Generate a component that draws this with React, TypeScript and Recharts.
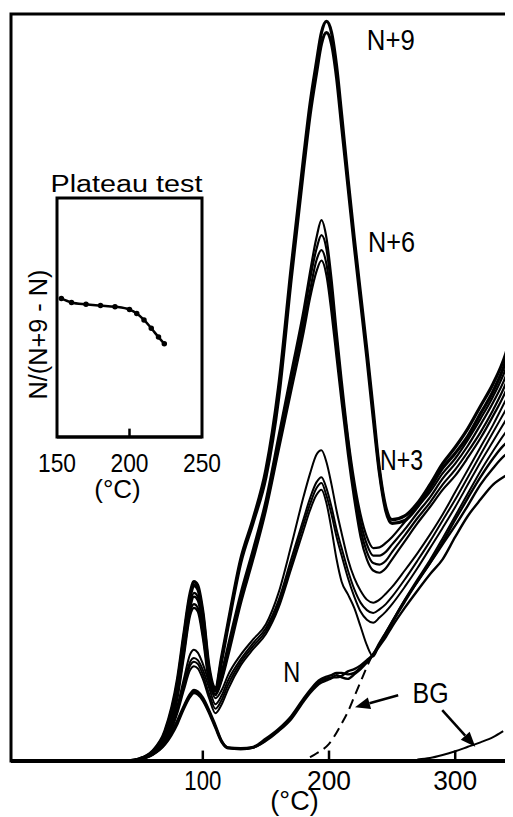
import React from 'react';
import { LineChart, Line, XAxis, YAxis, ReferenceLine, ReferenceDot, ReferenceArea, Label } from 'recharts';

// temperature grid (°C) shared by all glow curves
const temps = [40, 50, 60, 70, 80, 85, 90, 93, 96, 100, 105, 110, 115, 120, 130, 140, 150, 160, 170, 180, 185, 190, 194, 198, 202, 206, 210, 215, 220, 225, 230, 235, 240, 245, 250, 260, 270, 280, 290, 300, 310, 320, 330, 340, 345];

// N+9
const n9a = [0, 0.3, 1.3, 4, 11, 17, 22.5, 24, 23.5, 20, 12.5, 9.8, 14, 18.5, 27, 32.5, 39, 50, 66, 81, 88, 93.5, 97.5, 99, 97.5, 93, 86.5, 78, 70, 62.5, 55, 47, 39, 34, 32.3, 32.8, 34.5, 37, 39.8, 42, 44.5, 47.5, 50.5, 54.5, 57.5];
const n9b = [0, 0.3, 1.2, 3.8, 10.5, 16.5, 22, 23.5, 23, 19.5, 12, 9.5, 13.5, 18, 26.5, 32, 38, 48.5, 64.5, 79.5, 86.5, 92, 96, 97.5, 96, 91.5, 85, 77, 69, 61.5, 54, 46, 38.5, 33.5, 31.8, 32.2, 34, 36.5, 39.2, 41.2, 43.5, 46.5, 49.5, 53.5, 56.5];
// N+6
const n6a = [0, 0.3, 1.2, 3.6, 10, 15.5, 21, 22.5, 22, 18.5, 11.5, 9.5, 12, 15.5, 22.5, 28.5, 35, 43.5, 52, 60.5, 65.5, 70, 72.4, 70, 64.5, 57.5, 51, 43.5, 37.5, 33, 30, 28.5, 28.6, 29.2, 30, 32, 34, 36, 38.5, 40.5, 43, 45.8, 48.8, 52.5, 55];
const n6b = [0, 0.3, 1.2, 3.5, 9.5, 15, 20.5, 22, 21.5, 18, 11.5, 9.3, 11.5, 15, 22, 28, 34.5, 42.5, 51, 59.5, 64.5, 68.5, 70.4, 68.5, 63, 56.5, 50, 43, 36.5, 32, 29, 27.5, 27.5, 28, 29, 31, 33.2, 35.3, 37.8, 39.8, 42.2, 45, 48, 51.5, 54];
const n6c = [0, 0.3, 1.1, 3.3, 9, 14.5, 20, 21, 20.5, 17, 11, 9, 11, 14.5, 21.5, 27.5, 34, 42, 50.5, 58.5, 63, 67, 68.4, 66.5, 61.5, 55, 49, 42, 36, 31, 28, 26.5, 26.3, 26.8, 28, 30.2, 32.5, 34.6, 37, 39, 41.4, 44, 47, 50.5, 52.8];
const n6d = [0, 0.3, 1.1, 3.2, 8.5, 14, 19.5, 20.5, 20, 16.5, 10.5, 8.8, 10.8, 14, 21, 27, 33.5, 41.5, 49.5, 57.5, 62, 65.5, 67, 65, 60, 54, 48, 41, 35, 30, 27, 25.5, 25.2, 25.8, 27, 29.4, 31.8, 34, 36.3, 38.2, 40.6, 43.2, 46.2, 49.5, 51.8];
// N+3
const n3a = [0, 0.2, 1, 2.8, 7.5, 11, 14.3, 14.9, 14.5, 13, 10.5, 8.4, 9.5, 11.5, 14.2, 16.3, 18.3, 22.5, 28.8, 35.5, 38.5, 41, 41.6, 40, 37, 33.5, 30.5, 27, 24.5, 22.8, 21.6, 21.2, 21.6, 22.4, 23.3, 25.5, 27.8, 30.3, 33, 36, 39, 42, 45, 48.3, 50];
const n3b = [0, 0.2, 0.9, 2.6, 7, 10.3, 13.3, 13.8, 13.5, 12.2, 9.8, 7.6, 8.8, 10.8, 13.6, 15.8, 17.8, 21.5, 27, 32.5, 35.2, 37.3, 38, 36.5, 34, 31, 28.5, 25.5, 23, 21.2, 20.2, 19.8, 20.3, 21, 22, 24.3, 26.8, 29.4, 32.2, 35, 38, 41, 44, 47, 48.5];
const n3c = [0, 0.2, 0.9, 2.5, 6.8, 10, 12.8, 13.3, 13, 11.6, 9, 7, 8.2, 10.2, 13.2, 15.4, 17.4, 21, 26.3, 31.8, 34.4, 36.5, 37.2, 35.5, 33, 30, 27.5, 24.5, 22, 20, 18.9, 18.5, 19.2, 20, 21, 23.3, 25.8, 28.5, 31.2, 34, 37, 40, 42.8, 45.6, 47];
const n3d = [0, 0.2, 0.8, 2.4, 6.5, 9.5, 12.2, 12.7, 12.4, 11, 8.4, 6.4, 7.6, 9.6, 12.8, 15, 17, 20.5, 25.7, 31, 33.6, 35.6, 36.3, 34.5, 31, 27, 24, 22.3, 20.5, 18, 15.5, 14, 15.7, 17.2, 18.7, 21.6, 24.3, 26.9, 29.8, 32.8, 35.8, 38.8, 41.5, 44, 45];
// N (natural)
const n0a = [0, 0.2, 0.9, 2.4, 5.5, 7.4, 9, 9.5, 9.3, 8.5, 6.8, 4.8, 2.7, 1.8, 1.7, 1.9, 3, 4.3, 6, 8.4, 9.5, 10.5, 11, 11.3, 11.5, 11.8, 11.8, 11.6, 11.8, 12.5, 13.3, 14.3, 15.6, 17, 18.5, 21.3, 24, 26.5, 29.3, 32.3, 35.2, 38, 40.5, 42.5, 43];
const n0b = [0, 0.2, 0.9, 2.3, 5.3, 7.2, 8.8, 9.3, 9.1, 8.3, 6.6, 4.6, 2.6, 1.8, 1.6, 1.8, 2.8, 4.1, 5.8, 8.2, 9.3, 10.2, 10.8, 11, 11.2, 11.2, 11.4, 12, 12.3, 12.8, 13.5, 14.3, 15.8, 17.2, 18.6, 21.5, 24, 26.5, 29, 31.5, 34.2, 37, 39.2, 41, 41.5];
const n0c = [0, 0.2, 0.8, 2.2, 5, 7, 8.6, 9.1, 8.9, 8.1, 6.4, 4.4, 2.5, 1.7, 1.6, 1.8, 2.7, 4, 5.6, 8, 9.1, 10, 10.5, 10.8, 11.1, 11.5, 11.2, 11, 11.6, 12.3, 13.2, 14.2, 15.4, 16.6, 18, 20.5, 22.8, 25, 27, 30, 32.8, 35, 37, 38.2, 38.7];

// backgrounds
const bgDashT = [185, 190, 200, 210, 215, 220, 225, 230, 234];
const bgDashV = [0.5, 1, 2.3, 5, 6.6, 8.6, 10.6, 12.6, 14.1];
const bgT = [270, 280, 290, 300, 310, 320, 330, 338];
const bgV = [0.2, 0.4, 0.8, 1.3, 1.9, 2.5, 3.2, 4];

// inset: plateau test
const plateauT = [153, 160, 170, 180, 190, 200, 205, 210, 215, 220, 224];
const plateauV = [0.58, 0.563, 0.555, 0.55, 0.545, 0.533, 0.517, 0.49, 0.455, 0.418, 0.39];

const curves = [
  { key: 'n9a', values: n9a, width: 3.2 },
  { key: 'n9b', values: n9b, width: 3.2 },
  { key: 'n6a', values: n6a, width: 2.2 },
  { key: 'n6b', values: n6b, width: 2.2 },
  { key: 'n6c', values: n6c, width: 2.2 },
  { key: 'n6d', values: n6d, width: 2.2 },
  { key: 'n3a', values: n3a, width: 2 },
  { key: 'n3b', values: n3b, width: 2 },
  { key: 'n3c', values: n3c, width: 2 },
  { key: 'n3d', values: n3d, width: 2 },
  { key: 'n0a', values: n0a, width: 2.4 },
  { key: 'n0b', values: n0b, width: 2.4 },
  { key: 'n0c', values: n0c, width: 2.4 },
];

const rows = temps.map((t, i) => {
  const row: any = { t };
  curves.forEach((c) => { row[c.key] = c.values[i]; });
  return row;
});
const bgDashRows = bgDashT.map((t, i) => ({ t, v: bgDashV[i] }));
const bgRows = bgT.map((t, i) => ({ t, v: bgV[i] }));
const plateauRows = plateauT.map((t, i) => ({ t, v: plateauV[i] }));

// annotation anchors, in data units
const curveLabels = [
  { text: 'N+9', t: 249, v: 96.5 },
  { text: 'N+6', t: 249.5, v: 69.5 },
  { text: 'N+3', t: 257.5, v: 40.3 },
  { text: 'N', t: 170.5, v: 11.9 },
  { text: 'BG', t: 280.5, v: 9.1 },
];
const labelSpan: Record<string, number> = { 'N+9': 48, 'N+6': 47, 'N+3': 43, N: 17, BG: 36 };

const arrows = [
  { from: { x: 254.8, y: 8.8 }, to: { x: 220.6, y: 7.2 } },
  { from: { x: 289.7, y: 6.8 }, to: { x: 315.9, y: 1.9 } },
];

const FONT = "'Liberation Sans', Arial, sans-serif";
const INK = '#000';

const MainTick = (p: any) => (
  <text x={p.x} y={p.y + 29} textAnchor="middle" fontSize={27} fontFamily={FONT} fill={INK}
    textLength={p.payload.value === 100 ? 37 : 44} lengthAdjust="spacingAndGlyphs">
    {p.payload.value}
  </text>
);

const InsetTick = (p: any) => (
  <text x={p.x} y={p.y + 35} textAnchor="middle" fontSize={26} fontFamily={FONT} fill={INK}
    textLength={38} lengthAdjust="spacingAndGlyphs">
    {p.payload.value}
  </text>
);

const ArrowShape = (p: any) => {
  const { x1, y1, x2, y2 } = p;
  const a = Math.atan2(y2 - y1, x2 - x1);
  const len = 15;
  const half = 6;
  const bx = x2 - len * Math.cos(a);
  const by = y2 - len * Math.sin(a);
  const pts = [
    [x2, y2],
    [bx + half * Math.sin(a), by - half * Math.cos(a)],
    [bx - half * Math.sin(a), by + half * Math.cos(a)],
  ].map((q) => q.join(',')).join(' ');
  return (
    <g>
      <line x1={x1} y1={y1} x2={bx} y2={by} stroke={INK} strokeWidth={2.5} />
      <polygon points={pts} fill={INK} />
    </g>
  );
};

export default function App() {
  return (
    <div style={{ position: 'relative', width: 505, height: 809, background: '#fff' }}>
      <LineChart width={505} height={809} data={rows} margin={{ top: 6, right: 1, bottom: 0, left: 3 }}>
        <XAxis
          dataKey="t"
          type="number"
          domain={[-52, 345]}
          ticks={[100, 200, 300]}
          height={56}
          tickLine={false}
          tickSize={0}
          tickMargin={0}
          axisLine={{ stroke: INK, strokeWidth: 4 }}
          tick={MainTick}
          allowDataOverflow
        >
          <Label value="(°C)" position="insideBottom" offset={7} dx={33} fontSize={27} fontFamily={FONT} fill={INK} />
        </XAxis>
        <YAxis type="number" domain={[0, 100]} hide allowDataOverflow />
        <ReferenceArea x1={-52} x2={345} y1={0} y2={100} fill="none" stroke={INK} strokeWidth={3} ifOverflow="visible" />

        {[100, 200, 300].map((t) => (
          <ReferenceLine key={`tk${t}`} segment={[{ x: t, y: 0 }, { x: t, y: 1.4 }]} stroke={INK} strokeWidth={2.5} />
        ))}

        {curves.map((c) => (
          <Line
            key={c.key}
            dataKey={c.key}
            type="monotone"
            stroke={INK}
            strokeWidth={c.width}
            dot={false}
            isAnimationActive={false}
          />
        ))}
        <Line data={bgDashRows} dataKey="v" type="monotone" stroke={INK} strokeWidth={2} strokeDasharray="10 6" dot={false} isAnimationActive={false} />
        <Line data={bgRows} dataKey="v" type="monotone" stroke={INK} strokeWidth={2} dot={false} isAnimationActive={false} />

        {arrows.map((a, i) => (
          <ReferenceLine key={`ar${i}`} segment={[a.from, a.to]} shape={ArrowShape} />
        ))}

        {curveLabels.map((l) => (
          <ReferenceDot
            key={l.text}
            x={l.t}
            y={l.v}
            shape={(p: any) => (
              <text x={p.cx} y={p.cy} textAnchor="middle" dominantBaseline="central" fontSize={29} fontFamily={FONT} fill={INK}
                textLength={labelSpan[l.text]} lengthAdjust="spacingAndGlyphs">
                {l.text}
              </text>
            )}
          />
        ))}
      </LineChart>

      <div style={{ position: 'absolute', left: 12, top: 164 }}>
        <LineChart width={222} height={345} data={plateauRows} margin={{ top: 26, right: 40, bottom: 0, left: 37 }}>
          <XAxis
            dataKey="t"
            type="number"
            domain={[150, 250]}
            ticks={[150, 200, 250]}
            height={80}
            tickLine={false}
            tickSize={0}
            tickMargin={0}
            axisLine={{ stroke: INK, strokeWidth: 3 }}
            tick={InsetTick}
          >
            <Label value="(°C)" position="insideBottom" offset={19} dx={-12} fontSize={26} fontFamily={FONT} fill={INK} />
          </XAxis>
          <YAxis type="number" domain={[0, 1]} hide />
          <ReferenceArea x1={150} x2={250} y1={0} y2={1} fill="none" stroke={INK} strokeWidth={3} ifOverflow="visible">
            <Label
              content={(p: any) => {
                const vb = p.viewBox;
                return (
                  <g>
                    <text x={vb.x + vb.width / 2 - 3} y={vb.y - 6} textAnchor="middle" fontSize={23} fontFamily={FONT} fill={INK}
                      textLength={152} lengthAdjust="spacingAndGlyphs">
                      Plateau test
                    </text>
                    <text
                      transform={`translate(${vb.x - 19},${vb.y + vb.height / 2 + 17}) rotate(-90)`}
                      textAnchor="middle"
                      dominantBaseline="central"
                      fontSize={25}
                      fontFamily={FONT}
                      fill={INK}
                      textLength={130}
                      lengthAdjust="spacingAndGlyphs"
                    >
                      N/(N+9 - N)
                    </text>
                  </g>
                );
              }}
            />
          </ReferenceArea>
          <ReferenceLine segment={[{ x: 200, y: 0 }, { x: 200, y: 0.035 }]} stroke={INK} strokeWidth={2.5} />
          <Line
            dataKey="v"
            type="monotone"
            stroke={INK}
            strokeWidth={2.5}
            dot={{ r: 1.5, fill: INK, stroke: INK }}
            isAnimationActive={false}
          />
        </LineChart>
      </div>
    </div>
  );
}
